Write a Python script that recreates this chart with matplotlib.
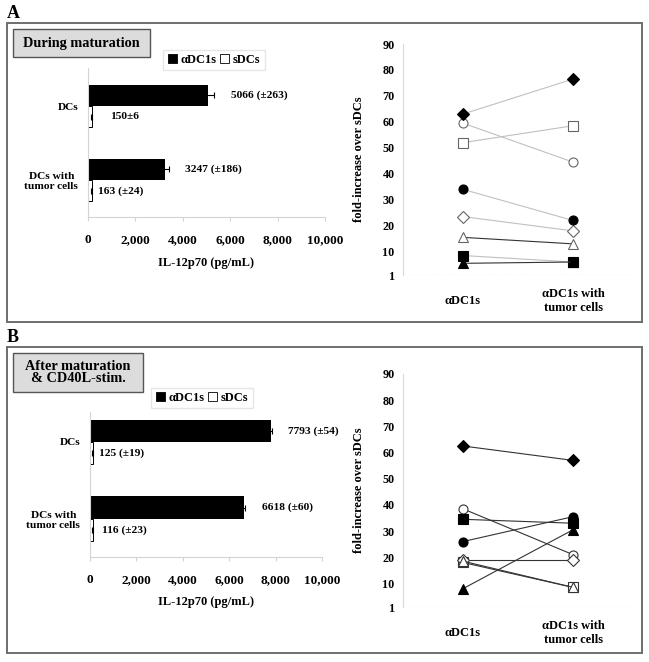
import numpy as np
import matplotlib
matplotlib.use('Agg')
from matplotlib import pyplot as plt
from matplotlib.patches import Rectangle, Patch
from matplotlib.ticker import FuncFormatter

plt.rcParams['font.family'] = ['Liberation Serif', 'DejaVu Serif']
plt.rcParams['font.weight'] = 'bold'
plt.rcParams['axes.labelweight'] = 'bold'

W, H = 649, 662

groups = ['DCs', 'DCs with\ntumor cells']
series = ['αDC1s', 'sDCs']

# panel A - during maturation
a_adc = [5066, 3247]
a_adc_err = [263, 186]
a_sdc = [150, 163]
a_sdc_err = [6, 24]
a_adc_lbl = ['5066 (±263)', '3247 (±186)']
a_sdc_lbl = ['150±6', '163 (±24)']

# panel B - after maturation & CD40L stimulation
b_adc = [7793, 6618]
b_adc_err = [54, 60]
b_sdc = [125, 116]
b_sdc_err = [19, 23]
b_adc_lbl = ['7793 (±54)', '6618 (±60)']
b_sdc_lbl = ['125 (±19)', '116 (±23)']

conditions = ['αDC1s', 'αDC1s with\ntumor cells']
markers = ['D', 'o', 's', 'o', 'D', '^', 's', '^']
filled = [True, False, False, True, False, False, True, True]
a_fold_left = [63, 59.5, 52, 34, 23.5, 15.5, 8.5, 5.5]
a_fold_right = [76.5, 44.5, 58.5, 22, 18, 13, 6, 6]
b_fold_left = [62.5, 38.5, 18, 26, 19, 18.5, 34.5, 8]
b_fold_right = [57, 21, 8.5, 35.5, 19, 8.5, 33, 30.5]

fig = plt.figure(figsize=(W / 100, H / 100), dpi=100)


def rect_px(x0, y0, x1, y1):
    # pixel box (from top-left) -> figure fraction rect
    return [x0 / W, 1 - y1 / H, (x1 - x0) / W, (y1 - y0) / H]


def frame(x0, y0, x1, y1, face='none', edge='#6e6e6e', lw=1.4):
    r = Rectangle((x0 / W, 1 - y1 / H), (x1 - x0) / W, (y1 - y0) / H,
                  transform=fig.transFigure, facecolor=face, edgecolor=edge, lw=lw)
    fig.patches.append(r)


def draw_bars(rect, adc, adc_err, sdc, sdc_err, adc_lbl, sdc_lbl, ytop, off_adc, off_sdc):
    ax = fig.add_axes(rect)
    y = np.arange(len(groups))
    h = 0.29
    ekw = dict(ecolor='black', lw=0.8, capsize=2.5, capthick=0.8)
    ax.barh(y - h / 2, adc, height=h, color='black', xerr=adc_err, error_kw=ekw)
    ax.barh(y + h / 2, sdc, height=h, color='white', edgecolor='black', lw=0.7,
            xerr=sdc_err, error_kw=ekw)
    for i in range(len(groups)):
        ax.text(adc[i] + adc_err[i] + off_adc[i], y[i] - h / 2, adc_lbl[i], va='center', fontsize=8.2)
        ax.text(sdc[i] + sdc_err[i] + off_sdc[i], y[i] + h / 2, sdc_lbl[i], va='center', fontsize=8.2)
    ax.set_xlim(0, 10000)
    ax.set_ylim(1.5, ytop)
    ax.set_xticks(range(0, 10001, 2000))
    ax.xaxis.set_major_formatter(FuncFormatter(lambda v, p: '{:,.0f}'.format(v)))
    ax.set_yticks(y)
    ax.set_yticklabels(groups, multialignment='center')
    for s in ['top', 'right']:
        ax.spines[s].set_visible(False)
    for s in ['left', 'bottom']:
        ax.spines[s].set_color('#d4d4d4')
    ax.tick_params(axis='y', length=0, pad=7, labelsize=8.2)
    ax.tick_params(axis='x', length=3, color='#d4d4d4', pad=9, labelsize=9.5)
    ax.set_xlabel('IL-12p70 (pg/mL)', fontsize=9)
    ax.xaxis.set_label_coords(0.5, -0.27)


def draw_fold(rect, left, right, line_colors, edge):
    ax = fig.add_axes(rect)
    for i in range(len(markers)):
        ax.plot([0, 1], [left[i], right[i]], color=line_colors[i], lw=0.8, marker=markers[i],
                ms=6.5, mfc='black' if filled[i] else 'white',
                mec='black' if filled[i] else edge, mew=0.8, clip_on=False, zorder=3 + filled[i])
    ax.axhline(1, ls='--', color='#a8a8a8', lw=0.8, dashes=(3, 2))
    ax.set_xlim(-0.545, 1.536)
    ax.set_ylim(1, 90)
    ax.set_yticks([1] + list(range(10, 91, 10)))
    for s in ['top', 'right', 'bottom']:
        ax.spines[s].set_visible(False)
    ax.spines['left'].set_color('#dadada')
    ax.tick_params(axis='y', length=0, pad=6, labelsize=8.7)
    ax.set_xticks([0, 1])
    ax.set_xticklabels(conditions, multialignment='center')
    ax.tick_params(axis='x', length=0, pad=19, labelsize=9)
    for t in ax.get_xticklabels():
        t.set_va('center')
    ax.set_ylabel('fold-increase over sDCs', fontsize=9)
    ax.yaxis.set_label_coords(-0.165, 0.5)


# panel frames
frame(7, 23, 642, 322)
frame(7, 347, 642, 653)
fig.text(7 / W, 1 - 14 / H, 'A', fontsize=13, va='center', ha='left')
fig.text(7 / W, 1 - 338 / H, 'B', fontsize=13, va='center', ha='left')

# title boxes
frame(13, 29, 150, 57, face='#dcdcdc', edge='#555555', lw=1.0)
fig.text(81.5 / W, 1 - 43 / H, 'During maturation', fontsize=10.3, ha='center', va='center')
frame(13, 353, 143, 392, face='#dcdcdc', edge='#555555', lw=1.0)
fig.text(78 / W, 1 - 372.5 / H, 'After maturation\n& CD40L-stim.', fontsize=10.3,
         ha='center', va='center', linespacing=0.95)

grey = '#c0c0c0'
dark = '#333333'

# panel A
draw_bars(rect_px(88, 68, 325, 217), a_adc, a_adc_err, a_sdc, a_sdc_err,
          a_adc_lbl, a_sdc_lbl, -0.514, [700, 650], [760, 230])
draw_fold(rect_px(403, 44, 632, 275), a_fold_left, a_fold_right,
          [grey, grey, grey, grey, grey, dark, grey, dark], '#666666')

# panel B
draw_bars(rect_px(90, 412, 322, 557), b_adc, b_adc_err, b_sdc, b_sdc_err,
          b_adc_lbl, b_sdc_lbl, -0.39, [680, 730], [230, 380])
draw_fold(rect_px(403, 374, 632, 607), b_fold_left, b_fold_right, [dark] * 8, '#333333')

# legends
handles = [Patch(facecolor='black', edgecolor='black', lw=0.6),
           Patch(facecolor='white', edgecolor='black', lw=0.6)]
for cx, cy in [(214, 60), (202, 398)]:
    fig.legend(handles, series, loc='center', bbox_to_anchor=(cx / W, 1 - cy / H),
               ncol=2, fontsize=9, handlelength=0.75, handleheight=0.75,
               handletextpad=0.3, columnspacing=0.25, borderpad=0.35, borderaxespad=0,
               fancybox=False, edgecolor='#e6e6e6', framealpha=1)

fig.savefig('out.png', dpi=100)
